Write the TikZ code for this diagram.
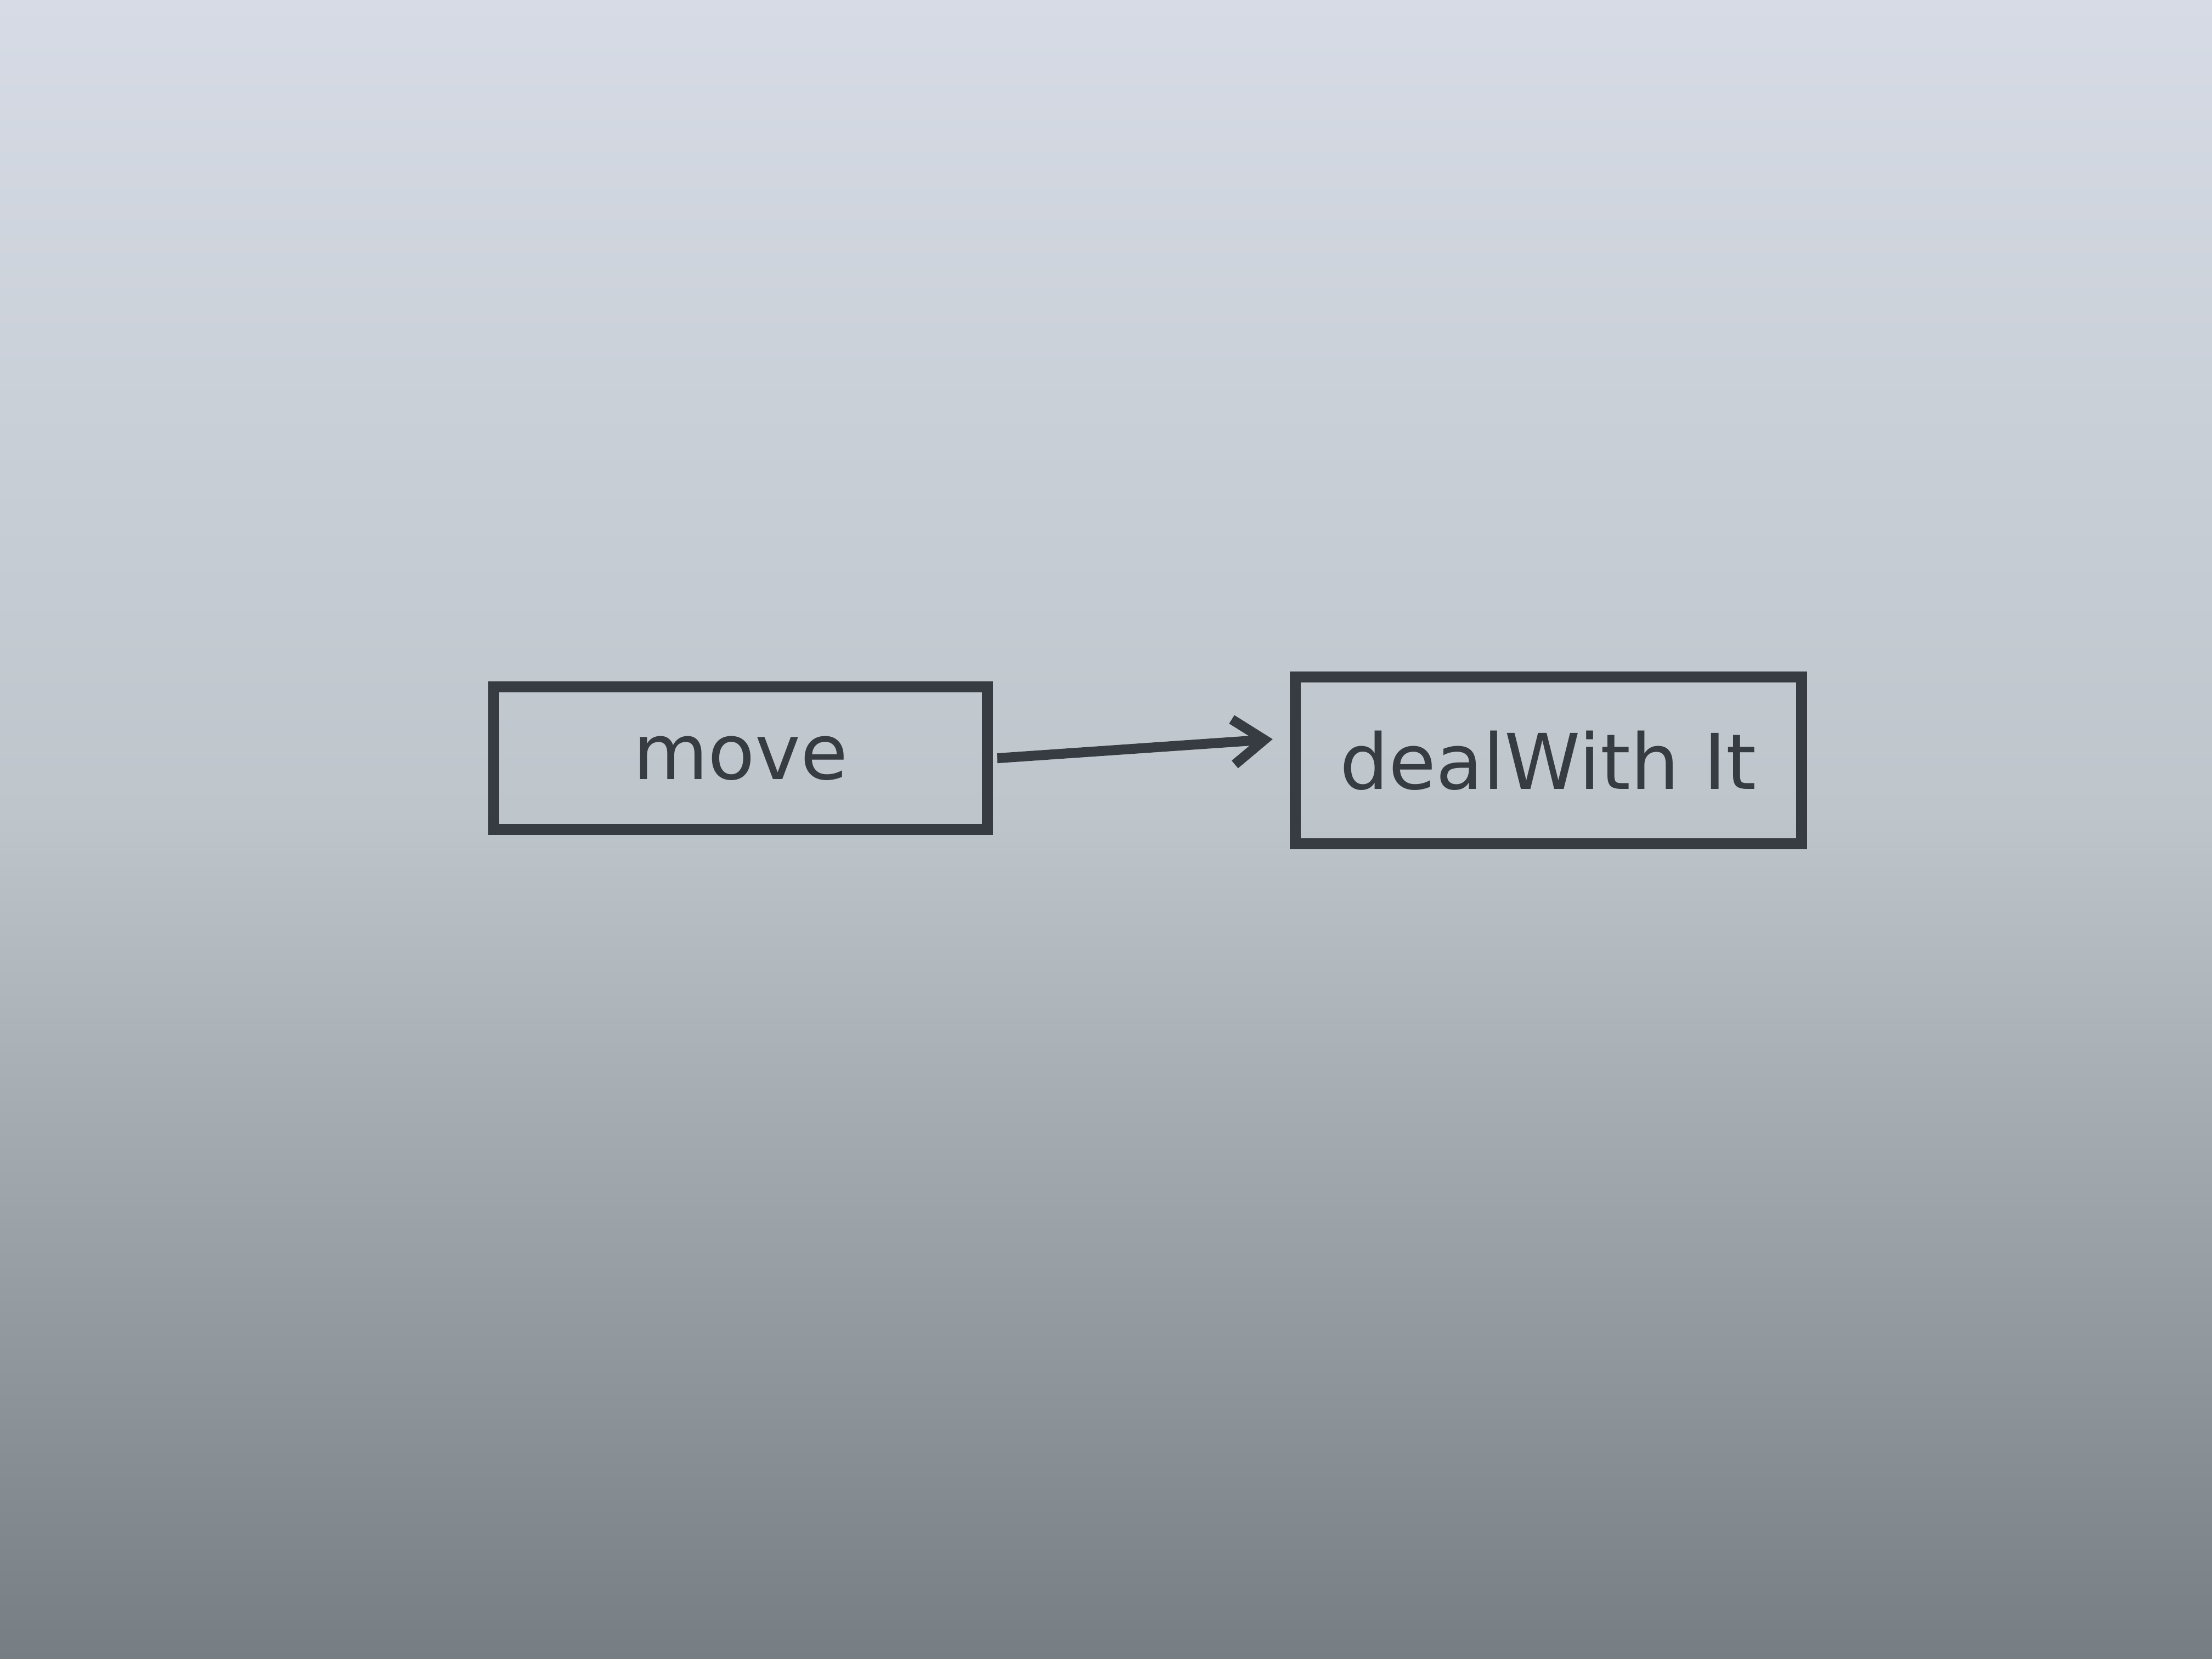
\documentclass[tikz,border=0pt]{standalone}
\usepackage{fontspec}
\setmainfont{DejaVu Sans}
\usetikzlibrary{arrows.meta}
\definecolor{ink}{RGB}{55,60,66}
\definecolor{bgtop}{RGB}{214,219,229}
\definecolor{bgmid}{RGB}{190,197,203}
\definecolor{bgbot}{RGB}{118,126,132}
\tikzset{
  box/.style={draw=ink, line width=2.2pt, inner sep=0pt,
    text=ink, font=\fontsize{15.5}{19}\selectfont},
  conn/.style={draw=ink, line width=2pt, -{Straight Barb[length=2.2mm,width=3.2mm]}}
}
\begin{document}
\begin{tikzpicture}
\shade[top color=bgtop, bottom color=bgmid] (0,11.76) rectangle (15.68,6.0);
\shade[top color=bgmid, bottom color=bgbot] (0,6.0) rectangle (15.68,0);
\useasboundingbox (0,0) rectangle (15.68,11.76);
\node[box, minimum width=3.5cm, minimum height=1.01cm] (move) at (5.25,6.385) {move};
\node[box, minimum width=3.59cm, minimum height=1.18cm] (deal) at (10.975,6.37) {dealWith It};
\draw[conn] (move.east) ++(0.03,0) coordinate (s) (s) -- ([xshift=-0.12cm,yshift=0.15cm]deal.west);
\end{tikzpicture}
\end{document}
